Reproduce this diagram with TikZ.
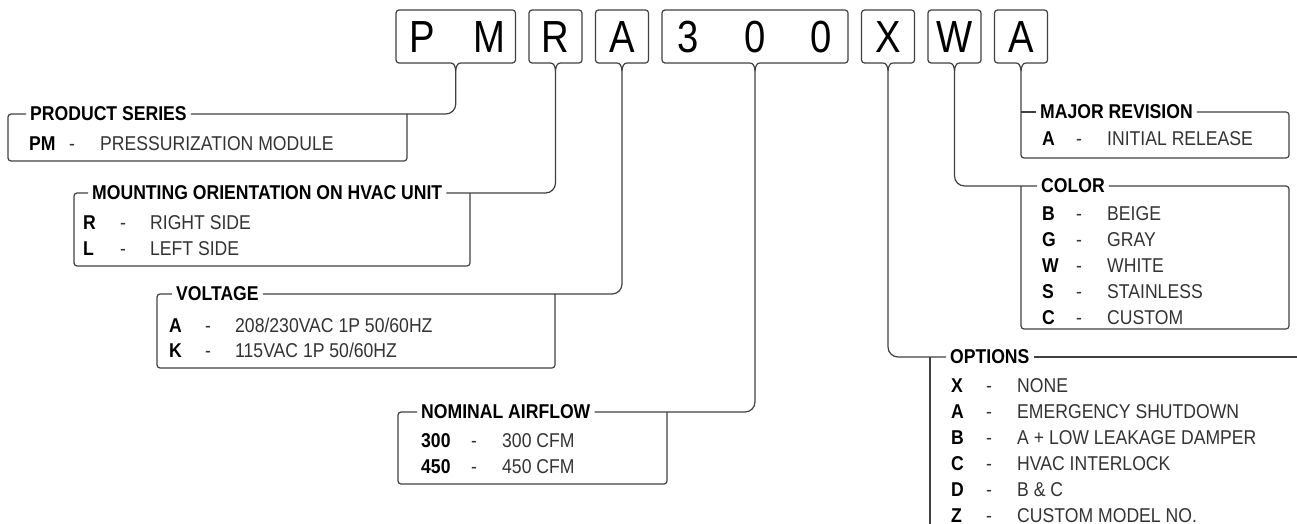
\documentclass[tikz,border=0pt]{standalone}
\usepackage{fontspec}
\setmainfont{Liberation Sans}[FakeStretch=0.88]
\newfontfamily\keyfont{Liberation Sans}[FakeStretch=0.85]

\begin{document}
\begin{tikzpicture}[x=1pt,y=-1pt]
		\tikzstyle{line}=[draw=black!75,line width=1.2pt]
		\tikzstyle{frame}=[line,rounded corners=3pt]
		\tikzstyle{link}=[line,rounded corners=10pt]
		\tikzstyle{letter}=[font=\keyfont\fontsize{45}{50}\selectfont,inner sep=0pt,anchor=base]
		\tikzstyle{title}=[font=\bfseries\fontsize{20}{24}\selectfont,inner xsep=4pt,inner ysep=0pt,anchor=west]
		\tikzstyle{key}=[font=\bfseries\fontsize{20}{24}\selectfont,inner sep=0pt,anchor=base west]
		\tikzstyle{desc}=[font=\fontsize{20}{24}\selectfont,text=black!80,inner sep=0pt,anchor=base west]
		\useasboundingbox (0,0) rectangle (1297,524);
		\clip (0,0) rectangle (1297,524);
		
		\foreach \ch [count=\i] in {P,M,R,A,3,0,0,X,W,A}
			\node[letter] (c\i) at ({422.5+66.5*(\i-1)},52.5) {\ch};
		\foreach \a/\b/\n in {1/2/ps,3/3/mo,4/4/vo,5/7/af,8/8/op,9/9/co,10/10/mr}{
			\pgfmathsetmacro\xl{396+66.5*(\a-1)}
			\pgfmathsetmacro\xr{449+66.5*(\b-1)}
			\pgfmathsetmacro\xm{(\xl+\xr)/2}
			\draw[frame] (\xm,72) .. controls (\xm,66) and ({\xm-2},63) .. ({\xm-8},63) -- (\xl,63) -- (\xl,10)
				-- (\xr,10) -- (\xr,63) -- ({\xm+8},63) .. controls ({\xm+2},63) and (\xm,66) .. (\xm,72);
			\coordinate (tip-\n) at (\xm,72);
		};
		
		\node[title] (ps) at (26,114) {PRODUCT SERIES};
		\draw[frame] (ps.west) -| (8,161) -| (407,114);
		\draw[link] (ps.east) -| (tip-ps);
		\node[key] (ps-k1) at (29,150) {PM};
		\node[desc] (ps-h1) at (69,150) {-};
		\node[desc] (ps-d1) at (100,150) {PRESSURIZATION MODULE};
		
		\node[title] (mo) at (88,193) {MOUNTING ORIENTATION ON HVAC UNIT};
		\draw[frame] (mo.west) -| (74,266) -| (470,193);
		\draw[link] (mo.east) -| (tip-mo);
		\foreach \k/\d [count=\i] in {R/RIGHT SIDE,L/LEFT SIDE}{
			\node[key] (mo-k\i) at (83,{229+26*(\i-1)}) {\k};
			\node[desc] (mo-h\i) at (120,{229+26*(\i-1)}) {-};
			\node[desc] (mo-d\i) at (150,{229+26*(\i-1)}) {\d};
		};
		
		\node[title] (vo) at (172,294) {VOLTAGE};
		\draw[frame] (vo.west) -| (157,368) -| (555,294);
		\draw[link] (vo.east) -| (tip-vo);
		\foreach \k/\d [count=\i] in {A/{208/230VAC 1P 50/60HZ},K/{115VAC 1P 50/60HZ}}{
			\node[key] (vo-k\i) at (169,{332+25.5*(\i-1)}) {\k};
			\node[desc] (vo-h\i) at (205,{332+25.5*(\i-1)}) {-};
			\node[desc] (vo-d\i) at (235,{332+25.5*(\i-1)}) {\d};
		};
		
		\node[title] (af) at (417,412) {NOMINAL AIRFLOW};
		\draw[frame] (af.west) -| (398,484) -| (667,412);
		\draw[link] (af.east) -| (tip-af);
		\foreach \k/\d [count=\i] in {300/300 CFM,450/450 CFM}{
			\node[key] (af-k\i) at (421,{447+26*(\i-1)}) {\k};
			\node[desc] (af-h\i) at (471,{447+26*(\i-1)}) {-};
			\node[desc] (af-d\i) at (502,{447+26*(\i-1)}) {\d};
		};
		
		\node[title] (mr) at (1036,112) {MAJOR REVISION};
		\draw[frame] (tip-mr) |- (1289,158) |- (mr.east);
		\draw[line] (mr.west) -- (mr.west -| tip-mr);
		\node[key] (mr-k1) at (1042,146) {A};
		\node[desc] (mr-h1) at (1076,146) {-};
		\node[desc] (mr-d1) at (1107,146) {INITIAL RELEASE};
		
		\node[title] (co) at (1037,186) {COLOR};
		\draw[link] (tip-co) |- (co.west);
		\draw[frame] (co.west -| tip-mr) |- (1289,329) |- (co.east);
		\foreach \k/\d [count=\i] in {B/BEIGE,G/GRAY,W/WHITE,S/STAINLESS,C/CUSTOM}{
			\node[key] (co-k\i) at (1042,{220+26*(\i-1)}) {\k};
			\node[desc] (co-h\i) at (1076,{220+26*(\i-1)}) {-};
			\node[desc] (co-d\i) at (1107,{220+26*(\i-1)}) {\d};
		};
		
		\node[title] (op) at (946,357) {OPTIONS};
		\draw[link] (tip-op) |- (op.west);
		\draw[line] (op.east) -- (1310,357);
		\draw[line] (930,357) -- (930,530);
		\foreach \k/\d [count=\i] in {X/NONE,A/EMERGENCY SHUTDOWN,B/A + LOW LEAKAGE DAMPER,C/HVAC INTERLOCK,D/B \& C,Z/CUSTOM\hspace{5pt}MODEL NO.}{
			\node[key] (op-k\i) at (951,{392+26*(\i-1)}) {\k};
			\node[desc] (op-h\i) at (986,{392+26*(\i-1)}) {-};
			\node[desc] (op-d\i) at (1017,{392+26*(\i-1)}) {\d};
		};
	\end{tikzpicture}
\end{document}
